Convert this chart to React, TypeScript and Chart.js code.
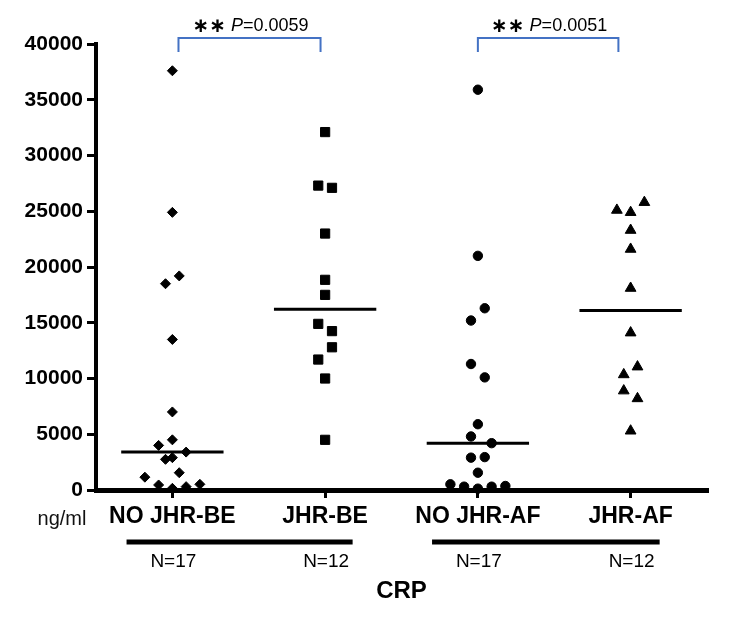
import React, { useEffect, useRef } from "react";
import { Chart, registerables } from "chart.js";

Chart.register(...registerables);

const FONT = '"Liberation Sans", Arial, sans-serif';

const categories = ["NO JHR-BE", "JHR-BE", "NO JHR-AF", "JHR-AF"];
const groupSizes = ["N=17", "N=12", "N=17", "N=12"];
const yTicks = [0, 5000, 10000, 15000, 20000, 25000, 30000, 35000, 40000];

// CRP values (ng/ml), with horizontal spread steps
const noJhrBe = [37600, 24900, 19200, 18500, 13500, 7000, 4500, 4000, 3400, 2900, 2750, 1550, 1150, 450, 150, 300, 510];
const noJhrBeSpread = [0, 0, 1, -1, 0, 0, 0, -2, 2, 0, -1, 1, -4, -2, 0, 2, 4];

const jhrBe = [32100, 27300, 27100, 23000, 18850, 17500, 14900, 14250, 12800, 11700, 10000, 4500];
const jhrBeSpread = [0, -1, 1, 0, 0, 0, -1, 1, 1, -1, 0, 0];

const noJhrAf = [35900, 21000, 16300, 15200, 11300, 10100, 5900, 4800, 4200, 2900, 2950, 1550, 510, 300, 120, 300, 360];
const noJhrAfSpread = [0, 0, 1, -1, -1, 1, 0, -1, 2, -1, 1, 0, -4, -2, 0, 2, 4];

const jhrAf = [25800, 25100, 24900, 23300, 21600, 18100, 14100, 11050, 10350, 8900, 8200, 5300];
const jhrAfSpread = [2, -2, 0, 0, 0, 0, 0, 1, -1, -1, 1, 0];

const medians = [3400, 16200, 4200, 16100];
const pValues = ["0.0059", "0.0051"];

const groups = [
  { values: noJhrBe, spread: noJhrBeSpread, style: "rectRot", radius: 5 },
  { values: jhrBe, spread: jhrBeSpread, style: "rect", radius: 6.5 },
  { values: noJhrAf, spread: noJhrAfSpread, style: "circle", radius: 4.7 },
  { values: jhrAf, spread: jhrAfSpread, style: "triangle", radius: 6.2 },
];

const SPREAD_STEP = 0.045;
const MEDIAN_HALF = 0.335;

const annotationPlugin = {
  id: "crpAnnotations",
  afterDraw(chart: any) {
    const { ctx, scales } = chart;
    const x = scales.x;
    const area = chart.chartArea;
    ctx.save();

    // significance brackets
    const spans = [
      [1.04, 1.97],
      [3.0, 3.92],
    ];
    spans.forEach((s, i) => {
      const x1 = x.getPixelForValue(s[0]);
      const x2 = x.getPixelForValue(s[1]);
      const top = area.top - 6;
      const bottom = area.top + 8;
      ctx.strokeStyle = "#4472c4";
      ctx.lineWidth = 2;
      ctx.beginPath();
      ctx.moveTo(x1, bottom);
      ctx.lineTo(x1, top);
      ctx.lineTo(x2, top);
      ctx.lineTo(x2, bottom);
      ctx.stroke();

      const star = "\u2217\u2217";
      ctx.font = `bold 20px "DejaVu Sans", sans-serif`;
      const wStar = ctx.measureText(star).width;
      ctx.font = `italic 18px ${FONT}`;
      const wP = ctx.measureText("P").width;
      ctx.font = `18px ${FONT}`;
      const wNum = ctx.measureText("=" + pValues[i]).width;
      const gap = 5;
      const total = wStar + gap + wP + wNum;
      let cx = (x1 + x2) / 2 + 1 - total / 2;
      const base = area.top - 13;
      ctx.fillStyle = "#000";
      ctx.textBaseline = "alphabetic";
      ctx.textAlign = "left";
      ctx.font = `bold 20px "DejaVu Sans", sans-serif`;
      ctx.fillText(star, cx, base + 1);
      cx += wStar + gap;
      ctx.font = `italic 18px ${FONT}`;
      ctx.fillText("P", cx, base);
      cx += wP;
      ctx.font = `18px ${FONT}`;
      ctx.fillText("=" + pValues[i], cx, base);
    });

    // unit label
    ctx.fillStyle = "#111";
    ctx.textAlign = "center";
    ctx.textBaseline = "middle";
    ctx.font = `20px ${FONT}`;
    ctx.fillText("ng/ml", 62, area.bottom + 29);

    // group underlines
    ctx.strokeStyle = "#000";
    ctx.lineWidth = 5;
    const lines = [
      [0.7, 2.18],
      [2.7, 4.19],
    ];
    lines.forEach((l) => {
      ctx.beginPath();
      ctx.moveTo(x.getPixelForValue(l[0]), area.bottom + 52);
      ctx.lineTo(x.getPixelForValue(l[1]), area.bottom + 52);
      ctx.stroke();
    });

    // group sizes
    ctx.fillStyle = "#000";
    ctx.font = `19px ${FONT}`;
    groupSizes.forEach((t, i) => {
      ctx.fillText(t, x.getPixelForValue(i + 1) + 1, area.bottom + 72);
    });

    // title
    ctx.font = `bold 24px ${FONT}`;
    ctx.fillText("CRP", (area.left + area.right) / 2, area.bottom + 101);

    ctx.restore();
  },
};

export default function App() {
  const canvasRef = useRef<HTMLCanvasElement | null>(null);

  useEffect(() => {
    const canvas = canvasRef.current;
    if (!canvas) return;

    const datasets: any[] = [];
    groups.forEach((g, gi) => {
      datasets.push({
        type: "scatter",
        data: g.values.map((v, i) => ({ x: gi + 1 + g.spread[i] * SPREAD_STEP, y: v })),
        pointStyle: g.style,
        pointRadius: g.radius,
        backgroundColor: "#000",
        borderColor: "#000",
        borderWidth: 1,
        showLine: false,
        clip: false,
      });
    });
    medians.forEach((m, gi) => {
      datasets.push({
        type: "line",
        data: [
          { x: gi + 1 - MEDIAN_HALF, y: m },
          { x: gi + 1 + MEDIAN_HALF, y: m },
        ],
        borderColor: "#000",
        borderWidth: 3,
        pointRadius: 0,
        fill: false,
        clip: false,
      });
    });

    const chart = new Chart(canvas, {
      type: "scatter",
      data: { datasets },
      options: {
        responsive: false,
        animation: false,
        layout: { padding: { top: 44, right: 28, bottom: 0, left: 0 } },
        plugins: {
          legend: { display: false },
          tooltip: { enabled: false },
        },
        scales: {
          x: {
            type: "linear",
            min: 0.5,
            max: 4.5,
            afterBuildTicks: (s: any) => {
              s.ticks = categories.map((_, i) => ({ value: i + 1 }));
            },
            afterFit: (s: any) => {
              s.height = 131;
            },
            ticks: {
              callback: (_v: any, i: number) => categories[i],
              font: { family: FONT, size: 23, weight: "bold" },
              color: "#000",
              padding: 5,
              maxRotation: 0,
              autoSkip: false,
            },
            grid: {
              display: true,
              drawOnChartArea: false,
              drawTicks: true,
              tickLength: 8,
              lineWidth: 3,
              color: "#000",
            },
            border: { display: true, width: 5, color: "#000" },
          },
          y: {
            min: 0,
            max: 40000,
            afterBuildTicks: (s: any) => {
              s.ticks = yTicks.map((v) => ({ value: v }));
            },
            afterFit: (s: any) => {
              s.width = 96;
            },
            ticks: {
              callback: (v: any) => String(v),
              font: { family: FONT, size: 21, weight: "bold" },
              color: "#000",
              padding: 4,
            },
            grid: {
              display: true,
              drawOnChartArea: false,
              drawTicks: true,
              tickLength: 9,
              lineWidth: 3,
              color: "#000",
            },
            border: { display: true, width: 4, color: "#000" },
          },
        },
      } as any,
      plugins: [annotationPlugin],
    });

    return () => chart.destroy();
  }, []);

  return (
    <div style={{ position: "absolute", left: 0, top: 0, width: 735, height: 621, background: "#fff" }}>
      <canvas ref={canvasRef} width={735} height={621} />
    </div>
  );
}
